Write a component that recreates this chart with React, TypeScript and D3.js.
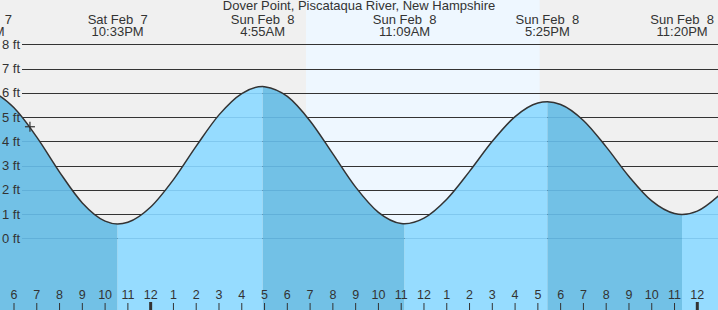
import React from "react";
import * as d3 from "d3";

// Hours since Sat Feb 7 00:00
const extremaTimes = [16.6, 22.55, 28.917, 35.15, 41.417, 47.333];
const extremaHeights = [6.1, 0.59, 6.26, 0.6, 5.63, 0.98];
const extremaLabels = [
  ["Sat Feb  7", "4:36PM"],
  ["Sat Feb  7", "10:33PM"],
  ["Sun Feb  8", "4:55AM"],
  ["Sun Feb  8", "11:09AM"],
  ["Sun Feb  8", "5:25PM"],
  ["Sun Feb  8", "11:20PM"],
];

// hourly readings of the tide curve (ft)
const hourTimes = [
  17, 18, 19, 20, 21, 22, 23, 24, 25, 26, 27, 28, 29, 30, 31, 32, 33, 34, 35,
  36, 37, 38, 39, 40, 41, 42, 43, 44, 45, 46, 47, 48, 49,
];
const hourHeights = [
  6.04, 5.38, 4.17, 2.73, 1.46, 0.71, 0.66, 1.29, 2.42, 3.8, 5.09, 5.97, 6.25,
  5.85, 4.84, 3.48, 2.11, 1.07, 0.61, 0.83, 1.61, 2.76, 4.0, 5.02, 5.58, 5.52,
  4.86, 3.77, 2.55, 1.54, 1.02, 1.12, 1.81,
];

const sunrise = 30.82;
const sunset = 41.08;
const nowTime = 18.7;
const nowHeight = 4.6;

const yTicks = [0, 1, 2, 3, 4, 5, 6, 7, 8];
const title = "Dover Point, Piscataqua River, New Hampshire";

const W = 718;
const H = 310;
const FONT = "'Liberation Sans', Arial, sans-serif";
const TXT = "#333";

export default function App() {
  const x = d3.scaleLinear().domain([18, 48]).range([14, 697.3]);
  const y = d3.scaleLinear().domain([0, 8]).range([238.3, 44.3]);
  const t0 = x.invert(0);
  const t1 = x.invert(W);

  const pts: [number, number][] = [];
  hourTimes.forEach((t, i) => pts.push([t, hourHeights[i]]));
  extremaTimes.forEach((t, i) => pts.push([t, extremaHeights[i]]));
  pts.sort((a, b) => a[0] - b[0]);
  // dedupe near-equal times
  const data = pts.filter((p, i) => i === 0 || p[0] - pts[i - 1][0] > 0.05);

  const line = d3
    .line<[number, number]>()
    .x((d) => x(d[0]))
    .y((d) => y(d[1]))
    .curve(d3.curveMonotoneX);
  const area = d3
    .area<[number, number]>()
    .x((d) => x(d[0]))
    .y0(H)
    .y1((d) => y(d[1]))
    .curve(d3.curveMonotoneX);

  const areaPath = area(data) || "";
  const linePath = line(data) || "";

  // segments: falling (dark) vs rising (light)
  const bounds = [t0, ...extremaTimes.filter((t) => t > t0 && t < t1), t1];
  const segs: { a: number; b: number; falling: boolean }[] = [];
  for (let i = 0; i < bounds.length - 1; i++) {
    const a = bounds[i];
    const b = bounds[i + 1];
    const mid = (a + b) / 2;
    // falling if previous extremum is a high
    let prevIdx = -1;
    extremaTimes.forEach((t, k) => {
      if (t <= mid) prevIdx = k;
    });
    const falling = prevIdx >= 0 && extremaHeights[prevIdx] > 3;
    segs.push({ a, b, falling });
  }

  const hours = d3.range(Math.ceil(t0), Math.floor(t1) + 1);
  const hourLabel = (t: number) => {
    const h = ((t % 24) + 24) % 24;
    const h12 = h % 12 === 0 ? 12 : h % 12;
    return String(h12);
  };

  return (
    <svg
      width={W}
      height={H}
      style={{ position: "absolute", left: 0, top: 0, fontFamily: FONT }}
    >
      <defs>
        <clipPath id="water">
          <path d={areaPath} />
        </clipPath>
        {segs.map((s, i) => (
          <clipPath id={`seg${i}`} key={i}>
            <rect x={x(s.a)} y={0} width={x(s.b) - x(s.a)} height={H} />
          </clipPath>
        ))}
      </defs>
      <rect x={0} y={0} width={W} height={H} fill="#f0f0f0" />
      <rect
        x={x(sunrise)}
        y={0}
        width={x(sunset) - x(sunrise)}
        height={H}
        fill="#eef7ff"
      />
      {yTicks.map((v) => (
        <line
          key={v}
          x1={22}
          x2={W}
          y1={Math.round(y(v)) + 0.5}
          y2={Math.round(y(v)) + 0.5}
          stroke="#333"
          strokeWidth={1}
        />
      ))}
      {segs.map((s, i) => (
        <path
          key={i}
          d={areaPath}
          clipPath={`url(#seg${i})`}
          fill={s.falling ? "#72c1e6" : "#96dcff"}
        />
      ))}
      <g clipPath="url(#water)">
        {yTicks.map((v) => (
          <line
            key={v}
            x1={22}
            x2={W}
            y1={Math.round(y(v)) + 0.5}
            y2={Math.round(y(v)) + 0.5}
            stroke="rgba(0,80,140,0.14)"
            strokeWidth={1}
          />
        ))}
      </g>
      <path d={linePath} fill="none" stroke="#333" strokeWidth={1.5} />
      {yTicks.map((v) => (
        <text
          key={v}
          x={20}
          y={y(v)}
          dy="0.35em"
          textAnchor="end"
          fontSize={13}
          fill={TXT}
        >
          {v} ft
        </text>
      ))}
      <text x={W / 2} y={10} textAnchor="middle" fontSize={13} fill={TXT}>
        {title}
      </text>
      {extremaTimes.map((t, i) => (
        <g key={i} fill={TXT} fontSize={13} textAnchor="middle">
          <text x={x(t)} y={24} style={{ whiteSpace: "pre" }}>
            {extremaLabels[i][0]}
          </text>
          <text x={x(t)} y={36}>
            {extremaLabels[i][1]}
          </text>
        </g>
      ))}
      {hours.map((t) => {
        const midnight = t % 24 === 0;
        return (
          <g key={t}>
            <text
              x={x(t)}
              y={299}
              textAnchor="middle"
              fontSize={12.5}
              fill={TXT}
            >
              {hourLabel(t)}
            </text>
            <line
              x1={x(t)}
              x2={x(t)}
              y1={midnight ? 302 : 303}
              y2={H}
              stroke="#333"
              strokeWidth={midnight ? 3 : 1}
            />
          </g>
        );
      })}
      <g stroke="#333" strokeWidth={1.2}>
        <line
          x1={x(nowTime) - 5}
          x2={x(nowTime) + 5}
          y1={y(nowHeight)}
          y2={y(nowHeight)}
        />
        <line
          x1={x(nowTime)}
          x2={x(nowTime)}
          y1={y(nowHeight) - 5}
          y2={y(nowHeight) + 5}
        />
      </g>
    </svg>
  );
}
